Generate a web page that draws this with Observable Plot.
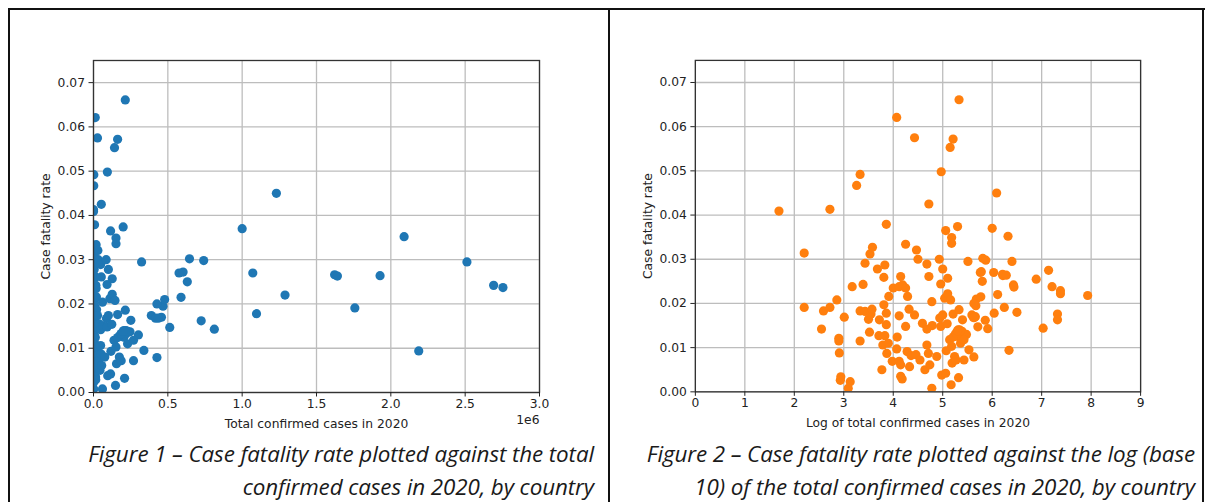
<!DOCTYPE html>
<html>
<head>
<meta charset="utf-8">
<script src="https://cdn.jsdelivr.net/npm/d3@7"></script>
<script src="https://cdn.jsdelivr.net/npm/@observablehq/plot@0.6"></script>
<style>
  html, body { margin: 0; padding: 0; background: #fff; }
  body { width: 1205px; height: 502px; position: relative; overflow: hidden; font-family: "DejaVu Sans", sans-serif; }
  .panel { position: absolute; top: 0; }
  .rule { position: absolute; background: #111; }
  .caption { position: absolute; text-align: right; font-family: "Open Sans", Lato, sans-serif; font-style: italic; font-weight: 400; font-size: 22.4px; line-height: 33px; color: #1a1a1a; white-space: nowrap; letter-spacing: -0.1px; }
</style>
</head>
<body>
<div class="rule" style="left:8px; top:8px; width:1197px; height:2px;"></div>
<div class="rule" style="left:8px; top:8px; width:2px; height:494px;"></div>
<div class="rule" style="left:608px; top:8px; width:2px; height:494px;"></div>
<div class="rule" style="left:1202px; top:8px; width:2px; height:494px;"></div>
<div id="left" class="panel" style="left:0px;"></div>
<div id="right" class="panel" style="left:609px;"></div>
<div class="caption" style="right:611px; top:437px;">Figure 1 – Case fatality rate plotted against the total<br>confirmed cases in 2020, by country</div>
<div class="caption" style="right:10px; top:437px;">Figure 2 – Case fatality rate plotted against the log (base<br>10) of the total confirmed cases in 2020, by country</div>
<script>
// log10 of total confirmed cases in 2020, per country
const logCases = [
  1.69, 2.20, 2.20, 2.72, 2.55, 2.59, 2.72, 2.86, 2.90, 2.90,
  2.91, 2.94, 2.93, 3.01, 3.09, 3.13, 3.17, 3.26, 3.33, 3.33,
  3.33, 3.39, 3.43, 3.43, 3.53, 3.58, 3.52, 3.50, 3.55, 3.57,
  3.68, 3.83, 3.81, 3.86, 3.72, 3.81, 3.86, 3.86, 3.71, 3.83,
  3.79, 3.90, 3.87, 3.77, 3.91, 4.00, 4.07, 4.15, 4.12, 4.19,
  4.25, 4.29, 4.25, 4.12, 4.25, 4.32, 4.08, 4.07, 3.98, 4.12,
  4.15, 4.15, 4.18, 4.28, 4.33, 4.36, 4.43, 4.47, 4.50, 4.43,
  4.46, 4.54, 4.59, 4.64, 4.68, 4.72, 4.72, 4.68, 4.71, 4.74,
  4.68, 4.78, 4.79, 4.78, 4.88, 4.93, 4.97, 4.96, 4.94, 4.96,
  4.98, 5.00, 5.00, 5.06, 5.06, 5.04, 5.10, 5.10, 5.09, 5.07,
  5.15, 5.21, 5.18, 5.18, 5.16, 5.17, 5.14, 5.18, 5.19, 5.21,
  5.25, 5.24, 5.27, 5.30, 5.33, 5.33, 5.31, 5.34, 5.31, 5.36,
  5.32, 5.40, 5.39, 5.43, 5.48, 5.51, 5.53, 5.59, 5.63, 5.66,
  5.67, 5.68, 5.71, 5.76, 5.80, 5.77, 5.81, 5.87, 5.86, 5.91,
  6.00, 6.03, 6.04, 6.09, 6.11, 6.21, 6.215, 6.285, 6.245, 6.32,
  6.34, 6.40, 6.43, 6.44, 6.50, 6.89, 7.14, 7.21, 7.03, 7.38,
  7.38, 7.32, 7.32, 7.93, 5.21, 5.27, 5.43, 5.34, 5.36, 5.30,
  5.62, 5.64, 5.63, 5.78
];
// case fatality rate, same order
const cfr = [
  0.0409, 0.0314, 0.0191, 0.0413, 0.0142, 0.0183, 0.0191, 0.0208, 0.0121, 0.0115,
  0.0088, 0.0034, 0.0026, 0.0169, 0.0008, 0.0023, 0.0238, 0.0467, 0.0492, 0.0183,
  0.0115, 0.0243, 0.0291, 0.0182, 0.0312, 0.0327, 0.0135, 0.0164, 0.0176, 0.0187,
  0.0278, 0.0287, 0.0259, 0.0379, 0.0163, 0.0197, 0.0178, 0.0152, 0.0127, 0.0127,
  0.0106, 0.0110, 0.0087, 0.0050, 0.0216, 0.0235, 0.0621, 0.0261, 0.0238, 0.0242,
  0.0235, 0.0216, 0.0334, 0.0172, 0.0148, 0.0187, 0.0124, 0.0097, 0.0069, 0.0069,
  0.0061, 0.0035, 0.0029, 0.0091, 0.0057, 0.0082, 0.0575, 0.0321, 0.0300, 0.0174,
  0.0084, 0.0072, 0.0155, 0.0050, 0.0289, 0.0425, 0.0261, 0.0106, 0.0087, 0.0061,
  0.0142, 0.0204, 0.0150, 0.0008, 0.0080, 0.0300, 0.0498, 0.0244, 0.0167, 0.0148,
  0.0038, 0.0278, 0.0174, 0.0365, 0.0042, 0.0212, 0.0257, 0.0222, 0.0154, 0.0093,
  0.0553, 0.0572, 0.0349, 0.0336, 0.0208, 0.0016, 0.0118, 0.0103, 0.0065, 0.0176,
  0.0129, 0.0080, 0.0072, 0.0374, 0.0661, 0.0186, 0.0140, 0.0133, 0.0125, 0.0110,
  0.0032, 0.0163, 0.0137, 0.0072, 0.0130, 0.0295, 0.0095, 0.0174, 0.0079, 0.0170,
  0.0195, 0.0210, 0.0147, 0.0270, 0.0250, 0.0215, 0.0302, 0.0298, 0.0162, 0.0143,
  0.0370, 0.0270, 0.0178, 0.0450, 0.0220, 0.0266, 0.0263, 0.0264, 0.0191, 0.0352,
  0.0094, 0.0295, 0.0242, 0.0237, 0.0180, 0.0255, 0.0275, 0.0238, 0.0144, 0.0229,
  0.0222, 0.0176, 0.0163, 0.0218, 0.0124, 0.0133, 0.0118, 0.0140, 0.0138, 0.0138,
  0.0168, 0.0168, 0.0200, 0.0272
];
const yTicks = [0, 0.01, 0.02, 0.03, 0.04, 0.05, 0.06, 0.07];
const xTicksLeft = [0, 0.5e6, 1.0e6, 1.5e6, 2.0e6, 2.5e6, 3.0e6];
const xTicksRight = [0, 1, 2, 3, 4, 5, 6, 7, 8, 9];

const data = logCases.map((v, i) => ({ log: v, cases: 10 ** v, cfr: cfr[i] }));

const gridStyle = { stroke: "#bdbdbd", strokeOpacity: 1, strokeWidth: 1.3 };
const axisFont = 12.3;

function makeChart({ xField, xDomain, xTicks, xFormat, xLabel, color, marginLeft, marginRight, extra = [] }) {
  return Plot.plot({
    width: marginLeft + 446 + marginRight,
    height: 440,
    marginLeft, marginRight,
    marginTop: 60,
    marginBottom: 48,
    style: { fontFamily: "DejaVu Sans, sans-serif", fontSize: axisFont + "px", color: "#222", background: "transparent" },
    x: { domain: xDomain, ticks: xTicks },
    y: { domain: [0, 0.075], ticks: yTicks },
    marks: [
      Plot.gridX(xTicks, { ...gridStyle }),
      Plot.gridY(yTicks, { ...gridStyle }),
      Plot.dot(data, { x: xField, y: "cfr", r: 4.6, fill: color, stroke: "none", clip: true }),
      Plot.frame({ stroke: "#333", strokeWidth: 1.3 }),
      Plot.axisX(xTicks, { tickFormat: xFormat, tickSize: 4.5, tickPadding: 2, fontSize: axisFont,
        label: xLabel, labelAnchor: "center", labelArrow: "none", labelOffset: 35 }),
      Plot.axisY(yTicks, { tickFormat: d => d.toFixed(2), tickSize: 4.5, tickPadding: 4, fontSize: axisFont,
        label: "Case fatality rate", labelAnchor: "center", labelArrow: "none", labelOffset: 52 }),
      ...extra
    ]
  });
}

const left = makeChart({
  xField: "cases", xDomain: [0, 3e6], xTicks: xTicksLeft,
  xFormat: d => (d / 1e6).toFixed(1), xLabel: "Total confirmed cases in 2020",
  color: "#1f77b4", marginLeft: 93, marginRight: 61,
  extra: [Plot.text(["1e6"], { frameAnchor: "bottom-right", dy: 31, text: d => d, textAnchor: "end", fontSize: axisFont })]
});
document.getElementById("left").append(left);

const right = makeChart({
  xField: "log", xDomain: [0, 9], xTicks: xTicksRight,
  xFormat: d => String(d), xLabel: "Log of total confirmed cases in 2020",
  color: "#ff7f0e", marginLeft: 86, marginRight: 65
});
document.getElementById("right").append(right);
</script>
</body>
</html>
